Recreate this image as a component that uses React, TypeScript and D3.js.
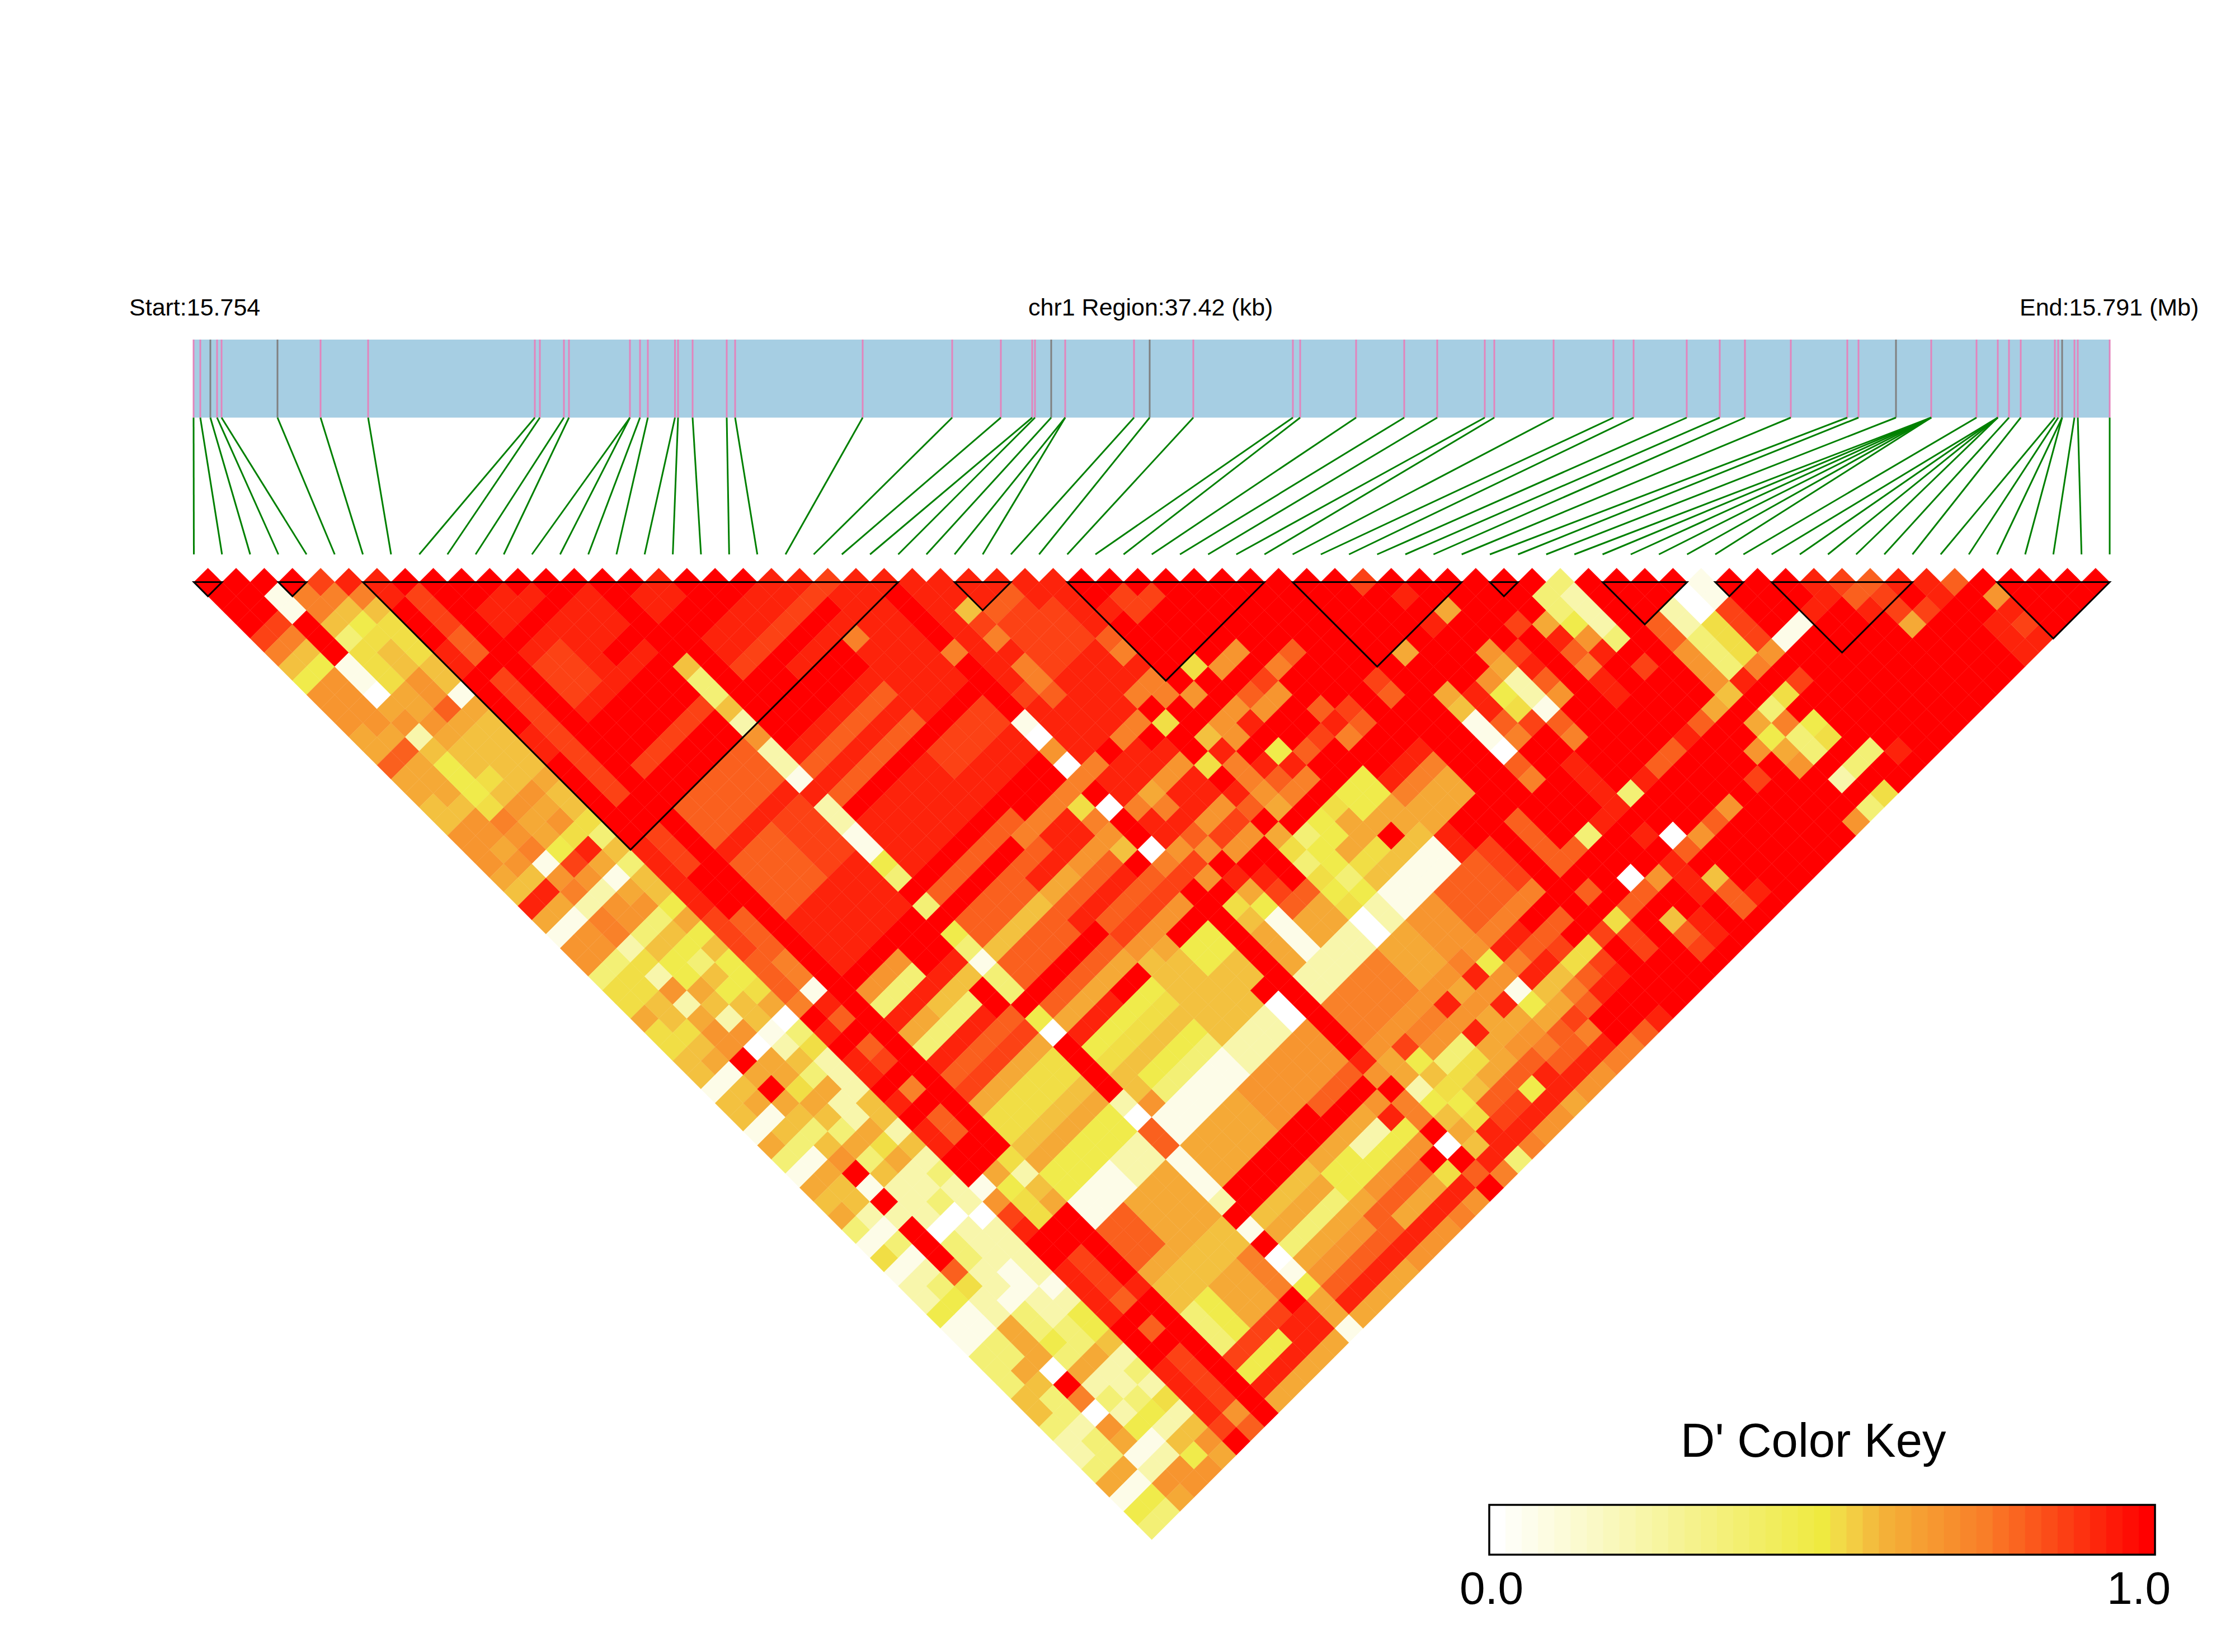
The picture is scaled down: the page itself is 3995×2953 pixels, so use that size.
import React from "react";
import * as d3 from "d3";

const W = 3995, H = 2953;
const snpCount = 69;
const levelValues: Record<string, number> = { a: 0, b: 0.06, c: 0.22, d: 0.36, e: 0.47, f: 0.52, g: 0.57, h: 0.62, i: 0.68, j: 0.74, k: 0.81, l: 0.87, m: 0.93, n: 1 };
const colorStops = [0, 0.5, 0.53, 0.6, 0.75, 1];
const colorValues = ["#FFFFFF", "#EFEA40", "#F2D848", "#F4B038", "#F97E28", "#FF0000"];

const bandTicks = [346,358,376,388,396,496,573,658,956,965,1008,1017,1126,1144,1158,1206.5,1212,1238,1299,1314,1542,1702,1789,1845,1850,1879,1904,2027,2055,2133,2311,2324,2424,2510,2569,2654,2671,2777,2884,2920,3015,3074,3119,3201,3302,3322,3389,3452,3533,3571,3591,3612,3673,3679,3686,3708,3714,3771];
const grayTicks = [376,496,1879,2055,3389,3686];
const snpToTick = [346,358,376,388,396,496,573,658,956,965,1008,1017,1126,1126,1144,1158,1206.5,1212,1238,1299,1314,1542,1702,1789,1845,1850,1879,1904,1904,2027,2055,2133,2311,2324,2424,2510,2569,2654,2671,2777,2884,2920,3015,3074,3119,3201,3302,3322,3389,3452,3452,3452,3452,3452,3452,3533,3571,3571,3571,3571,3591,3612,3673,3679,3686,3686,3708,3714,3771];
const blocks = [[0,1],[3,4],[6,25],[27,29],[31,38],[39,45],[46,47],[50,53],[54,55],[56,61],[64,68]];

// Strings of D' levels read strip by strip: row i, from j = i+1 to j = 68.
const headRows = [
  "nnnnljgeiiihhkhhggiiihgmhbiidffhffggbggbhdbhghdbfbccebbdddggdccdhbed",
  "nnnljgeiiiihkhhhgiihigmhbiidffggfghbghbgdbhggcbdbcdebbddhgddcddhbed",
  "nbbnnnbbahicgeeefjijbijcjjcfcichiinhnhgdginbncnnnkfcchhhanjaihbcih",
  "njjgdfffhhihggfgihheliciidgeehgciahhfhgdhdgcccaddccbddedhcdcebcii",
  "ljgefggiikhggggihifmhbhidgedgeggbcgdhcchfhccdacccbbccddhccdecgei",
  "mjgfffggbhgggghggfdgdggehegeefhadfcccggcgcdccaccccbceegcdcfcgih",
];
// Areas of the triangle: first SNP range, second SNP range, level.
const areasBase: [number, number, number, number, string][] = [
  [6,68,7,68,"n"],
  [6,6,7,8,"m"],[7,7,9,11,"l"],[7,7,12,13,"k"],[6,6,12,13,"m"],[7,7,15,23,"l"],[6,6,18,19,"m"],
  [9,10,12,13,"m"],[11,11,13,13,"m"],[9,11,15,19,"m"],[9,10,16,18,"l"],[12,13,15,17,"m"],[12,13,19,19,"m"],[9,13,23,23,"l"],
  [15,20,11,22,"n"],[15,16,17,18,"m"],[17,19,16,17,"m"],[16,22,23,23,"l"],[16,21,21,22,"m"],[22,24,24,25,"m"],[18,24,25,25,"m"],
  [14,14,21,21,"g"],[14,14,22,23,"d"],[14,14,24,24,"g"],[14,14,25,25,"c"],[14,14,26,26,"i"],[14,14,27,28,"c"],[14,14,29,29,"b"],[14,14,30,30,"m"],
  [14,14,31,32,"c"],[14,14,33,34,"b"],[14,14,35,35,"e"],[14,14,36,36,"d"],[14,14,38,38,"d"],[14,14,40,40,"e"],[14,14,41,41,"d"],[14,14,42,42,"b"],[14,14,43,44,"d"],
  [14,14,46,46,"e"],[14,14,47,47,"a"],[14,14,52,52,"c"],[14,14,53,53,"a"],[14,14,54,55,"k"],[14,14,56,58,"b"],[14,14,59,59,"c"],[14,14,61,61,"b"],[14,14,63,63,"a"],[14,14,64,64,"b"],[14,14,65,65,"e"],[14,14,66,67,"h"],[14,14,68,68,"b"],
  [6,6,26,30,"m"],[7,7,26,28,"l"],[6,6,31,33,"l"],[6,6,34,36,"k"],[7,7,32,34,"k"],[7,7,35,36,"j"],[6,6,37,37,"j"],[7,7,37,37,"b"],[7,7,38,38,"m"],[6,6,39,39,"m"],[7,7,39,39,"k"],
  [7,7,41,41,"k"],[7,7,42,42,"l"],[6,6,41,42,"m"],[7,7,44,44,"j"],[6,6,44,44,"m"],[7,7,46,47,"k"],[6,6,46,47,"m"],
  [6,6,50,50,"b"],[6,6,51,51,"i"],[6,6,52,52,"l"],[6,6,53,53,"m"],[7,7,50,50,"h"],[7,7,51,51,"e"],[7,7,52,53,"f"],[8,8,50,50,"f"],[8,8,51,51,"c"],[8,8,52,52,"g"],[8,8,53,53,"h"],
  [7,7,56,58,"l"],[6,6,56,58,"m"],[7,7,59,59,"k"],[6,6,59,59,"m"],[8,8,59,59,"m"],[7,7,61,61,"k"],[7,7,63,65,"l"],[6,6,63,65,"m"],[7,7,66,66,"l"],[6,6,66,66,"m"],[7,7,67,67,"i"],[6,6,67,67,"l"],[7,7,68,68,"k"],
  [15,20,26,27,"n"],[15,20,28,28,"m"],[15,21,29,29,"k"],[15,21,30,30,"m"],[15,21,31,31,"k"],[15,23,32,32,"n"],[20,23,33,35,"l"],[15,19,33,34,"m"],[15,23,35,36,"m"],
  [15,20,38,38,"k"],[15,19,40,41,"k"],[15,18,42,42,"g"],[15,18,43,43,"k"],[15,19,44,44,"k"],[21,23,26,31,"m"],
  [24,24,35,35,"b"],[24,24,36,36,"a"],[24,24,37,37,"i"],[24,24,38,38,"a"],[24,24,39,39,"j"],[24,24,41,41,"a"],[24,24,42,43,"n"],[24,24,44,44,"a"],[24,24,45,45,"j"],[24,24,46,46,"a"],[23,23,40,40,"f"],
  [9,13,26,37,"m"],[9,13,26,28,"k"],[9,11,30,33,"k"],[12,13,30,33,"l"],[9,13,38,38,"n"],
  [9,11,39,39,"i"],[9,11,40,40,"d"],[9,13,41,41,"m"],[9,10,42,42,"h"],[11,13,42,42,"g"],[9,12,43,43,"d"],[9,12,44,44,"m"],[9,13,45,45,"k"],[9,13,46,46,"l"],[9,13,47,47,"h"],[9,13,48,49,"f"],[9,13,50,50,"g"],[9,13,51,51,"h"],[9,13,52,53,"e"],
  [9,11,54,55,"b"],[12,13,54,55,"c"],[11,13,56,58,"h"],[9,10,56,58,"k"],[9,13,59,59,"h"],[9,13,60,61,"g"],[9,9,62,64,"d"],[10,10,62,64,"e"],[11,12,62,64,"h"],[13,13,62,64,"j"],[9,12,65,65,"l"],[9,11,66,66,"e"],[12,13,66,66,"m"],[9,13,67,67,"m"],[9,13,68,68,"h"],
  [15,19,45,45,"n"],[15,20,46,46,"k"],[15,20,47,47,"h"],[15,17,48,48,"m"],[15,19,49,49,"e"],[15,21,50,50,"f"],[15,20,51,51,"g"],[16,19,52,52,"e"],[15,15,52,52,"g"],[16,20,53,53,"d"],[15,15,53,53,"i"],
  [20,24,46,52,"g"],[21,23,47,48,"h"],[22,24,49,50,"e"],[20,22,53,53,"g"],[23,23,49,49,"e"],
  [15,19,54,55,"b"],[20,22,54,55,"c"],[23,23,54,55,"a"],[15,18,56,58,"h"],[19,23,56,58,"i"],[21,23,59,59,"k"],
  [15,19,60,60,"n"],[15,18,61,61,"g"],[15,18,62,62,"h"],[15,19,63,63,"d"],[15,19,64,64,"h"],[15,18,65,65,"i"],[15,19,66,66,"k"],[15,23,67,67,"m"],[15,18,68,68,"h"],
  [19,22,61,61,"h"],[19,23,62,63,"e"],[20,23,64,64,"i"],[19,22,65,65,"k"],[20,22,66,66,"h"],[23,23,66,66,"f"],[23,23,60,60,"n"],[23,23,61,61,"i"],[23,23,62,62,"m"],[19,21,68,68,"i"],[22,22,68,68,"j"],[23,23,68,68,"i"],
  [24,24,47,58,"n"],[24,24,59,59,"m"],[24,24,60,60,"i"],[24,24,61,61,"n"],[24,24,62,63,"j"],[24,24,64,64,"n"],[24,24,65,65,"a"],[24,24,66,66,"n"],[24,24,67,67,"k"],[24,24,68,68,"n"],
];
const areasRight: [number, number, number, number, string][] = [
  [25,30,26,37,"m"],[26,26,29,29,"g"],[21,21,26,26,"j"],[26,26,30,30,"l"],[26,26,31,31,"j"],[24,24,30,30,"j"],[27,29,32,34,"l"],[26,26,33,34,"j"],[26,26,35,35,"k"],[25,25,34,34,"l"],[25,25,35,35,"m"],
  [32,32,34,35,"l"],[33,33,35,35,"l"],[31,31,34,34,"m"],[30,30,35,35,"k"],[30,30,36,36,"j"],[27,28,30,30,"k"],[27,28,31,31,"l"],
  [25,29,38,38,"m"],[27,28,39,39,"j"],[25,25,39,39,"j"],[26,26,39,39,"n"],[26,27,40,40,"m"],[25,25,40,40,"m"],
  [30,30,38,39,"j"],[29,29,38,38,"j"],[31,31,40,40,"i"],[32,32,39,39,"f"],[29,29,40,40,"f"],[33,34,40,40,"i"],[30,30,42,42,"g"],[29,29,43,43,"f"],[32,32,45,45,"e"],
  [36,36,42,42,"k"],[35,35,42,42,"j"],[34,34,42,42,"l"],[33,33,42,42,"k"],[32,32,42,42,"i"],[31,31,42,42,"i"],[34,34,43,43,"i"],[33,33,43,43,"i"],[32,32,43,43,"m"],[31,31,43,43,"i"],
  [35,35,45,45,"k"],[36,36,46,46,"l"],[36,36,47,47,"k"],[35,35,47,47,"j"],[35,35,46,46,"m"],[34,34,46,46,"l"],[33,33,46,46,"k"],[32,32,46,46,"m"],[32,32,47,47,"j"],[31,31,46,46,"k"],[31,31,45,45,"m"],[31,31,47,47,"j"],[30,30,47,47,"h"],[30,30,46,46,"i"],[30,30,45,45,"j"],[30,30,44,44,"j"],[30,30,43,43,"m"],[29,29,46,46,"k"],[29,29,45,45,"m"],
  [26,28,42,42,"i"],[26,26,42,42,"h"],[25,25,42,42,"j"],[26,26,43,43,"j"],[25,25,43,43,"m"],[25,28,41,41,"m"],[27,28,43,43,"m"],[25,28,44,44,"m"],[27,28,45,45,"i"],[27,28,46,46,"l"],[27,28,47,47,"i"],
  [26,26,45,45,"k"],[26,26,46,46,"i"],[25,25,45,45,"i"],[25,25,46,46,"l"],[25,25,47,47,"i"],[26,26,47,47,"n"],[26,26,48,48,"m"],[29,29,48,48,"h"],
  [20,22,39,39,"j"],[23,23,39,39,"j"],[20,20,40,40,"k"],[21,22,40,40,"m"],[19,22,41,41,"m"],[23,23,41,41,"j"],[19,22,42,42,"h"],[21,23,42,42,"i"],[19,22,43,43,"k"],[23,23,43,43,"g"],[19,22,44,44,"m"],[20,23,45,45,"k"],[20,24,46,46,"l"],[20,23,47,47,"i"],[22,23,48,48,"n"],
  [33,34,49,50,"e"],[31,31,49,49,"e"],[32,32,49,49,"f"],[30,30,49,49,"d"],[30,30,50,50,"e"],[29,29,50,50,"d"],[29,29,49,49,"f"],[29,29,51,51,"f"],[30,30,51,51,"e"],[32,32,51,51,"h"],[32,32,50,50,"h"],[33,33,51,51,"h"],[31,31,51,51,"h"],[31,31,50,50,"e"],[31,31,52,52,"f"],[32,32,52,52,"f"],[30,30,52,52,"d"],[29,29,52,52,"e"],[30,30,53,53,"e"],[29,29,53,53,"f"],[31,33,53,53,"g"],
  [27,28,48,48,"n"],[26,26,49,49,"h"],[25,25,49,49,"f"],[26,26,50,50,"e"],[25,25,50,50,"g"],[25,25,51,53,"h"],[26,26,51,53,"b"],[27,27,49,49,"m"],[28,28,49,50,"n"],[27,27,50,50,"l"],[28,28,51,51,"k"],[27,27,51,51,"k"],[27,28,52,53,"h"],
  [25,26,54,55,"c"],[27,28,54,55,"c"],[29,29,54,55,"a"],[30,30,54,55,"c"],[31,32,54,55,"b"],[33,34,54,55,"b"],[35,35,54,55,"m"],[36,37,54,55,"n"],
  [25,26,56,58,"j"],[27,28,56,59,"j"],[29,30,56,58,"h"],[31,32,56,58,"i"],[33,35,56,58,"k"],[36,36,56,58,"l"],[37,37,56,58,"n"],[38,38,56,59,"k"],[42,42,56,58,"m"],
  [25,30,59,59,"i"],[31,31,59,59,"j"],[32,32,59,59,"i"],[33,35,59,59,"j"],[36,36,59,59,"j"],[37,37,59,59,"n"],[39,39,59,59,"k"],
  [25,25,60,61,"h"],[26,26,60,60,"l"],[26,26,61,61,"e"],[27,28,60,60,"j"],[27,28,61,61,"i"],[29,29,60,60,"m"],[30,30,60,60,"h"],[31,31,60,60,"m"],[32,32,60,60,"e"],[33,34,60,60,"m"],[35,36,60,60,"n"],[29,32,61,61,"i"],[33,33,61,61,"j"],[34,36,61,61,"k"],[38,38,61,61,"k"],
  [25,25,62,62,"c"],[26,26,62,62,"g"],[27,28,62,62,"d"],[29,29,62,62,"m"],[30,30,62,62,"h"],[31,31,62,62,"m"],[32,32,62,62,"b"],[33,34,62,62,"m"],[35,35,62,62,"l"],[21,22,62,62,"c"],
  [25,25,63,63,"e"],[26,26,63,63,"f"],[27,27,63,63,"f"],[28,28,63,63,"f"],[29,31,63,63,"h"],[32,32,63,63,"e"],[33,34,63,63,"g"],[35,36,63,63,"f"],[37,37,63,63,"l"],[38,38,63,63,"f"],[39,40,63,63,"k"],
  [25,25,64,64,"g"],[26,26,64,64,"e"],[27,27,64,64,"g"],[28,29,64,64,"h"],[30,31,64,64,"i"],[32,33,64,64,"h"],[34,34,64,64,"j"],[35,35,64,64,"k"],[36,36,64,64,"l"],
  [25,25,65,65,"h"],[26,26,65,65,"f"],[27,30,65,65,"k"],[31,31,65,65,"j"],[32,32,65,65,"k"],[33,33,65,65,"l"],[34,34,65,65,"k"],[35,36,65,65,"m"],[38,38,64,65,"l"],
  [25,25,66,66,"g"],[26,27,66,66,"m"],[27,27,66,66,"l"],[28,28,66,66,"l"],[29,29,66,66,"e"],[30,30,66,66,"m"],[31,32,66,66,"k"],[33,33,66,66,"j"],
  [25,29,67,67,"m"],[30,33,67,67,"m"],[25,25,68,68,"j"],[26,26,68,68,"d"],[27,27,68,68,"j"],[28,29,68,68,"i"],[30,30,68,68,"h"],[31,32,68,68,"i"],[33,34,68,68,"j"],[35,35,68,68,"k"],[36,36,68,68,"m"],
  [41,41,42,42,"l"],[42,42,44,44,"m"],[43,43,46,46,"h"],[42,42,46,46,"m"],[40,40,46,46,"h"],[38,38,46,46,"l"],[38,38,47,47,"k"],
  [40,40,49,49,"h"],[40,40,50,50,"g"],[40,40,51,52,"b"],[40,40,53,53,"a"],[40,40,54,54,"k"],[40,40,55,55,"j"],[41,41,50,50,"m"],[41,41,51,51,"m"],[41,41,52,52,"k"],[41,41,53,53,"j"],
  [43,43,49,49,"i"],[43,43,50,50,"h"],[43,43,51,52,"c"],[43,43,53,53,"b"],[43,43,54,54,"k"],[43,43,55,55,"j"],[42,42,50,50,"i"],[42,42,51,51,"e"],[42,42,52,52,"f"],[42,42,53,53,"l"],
  [44,44,50,50,"l"],[44,44,51,51,"m"],[44,44,52,52,"k"],[44,44,53,53,"i"],[37,37,50,50,"m"],[37,37,51,51,"j"],[37,37,52,53,"h"],[36,36,50,50,"m"],[36,36,51,51,"j"],[36,36,52,53,"h"],[35,35,51,51,"j"],[35,35,52,53,"h"],[35,35,50,50,"m"],[34,34,51,52,"h"],[34,34,53,53,"g"],
  [48,48,49,49,"d"],[48,48,50,52,"c"],[48,48,53,53,"d"],[47,47,49,50,"d"],[47,47,51,51,"e"],[47,47,52,52,"i"],[47,47,53,53,"m"],[45,45,49,49,"l"],[46,46,49,49,"n"],[46,46,50,50,"h"],[46,46,51,51,"m"],[46,46,52,52,"k"],[46,46,53,53,"j"],[46,46,54,55,"m"],[48,48,55,55,"l"],
  [51,53,54,55,"b"],[52,52,54,55,"a"],[51,51,54,55,"c"],[50,50,54,55,"k"],[51,51,56,58,"d"],[52,52,56,58,"f"],[50,50,56,58,"i"],[53,53,56,58,"l"],
  [55,55,59,59,"b"],[54,54,59,59,"b"],[53,53,59,59,"i"],[52,52,59,59,"j"],[51,51,59,59,"m"],[50,50,59,59,"g"],[49,49,59,59,"h"],[48,48,59,59,"k"],[47,47,59,59,"m"],[46,46,59,59,"k"],[45,45,59,59,"k"],[44,44,59,59,"m"],[43,43,59,59,"d"],[41,42,59,59,"m"],[40,40,59,59,"d"],
  [57,57,58,58,"m"],[56,56,59,59,"m"],[57,57,59,59,"m"],[58,58,59,59,"l"],[59,59,60,60,"k"],[60,60,61,61,"m"],[59,59,61,61,"l"],[58,58,60,60,"k"],[58,58,61,61,"m"],[61,61,62,62,"m"],
  [59,59,62,62,"l"],[60,60,63,63,"l"],[61,61,63,63,"m"],[62,62,63,63,"k"],[59,59,63,63,"h"],[63,63,65,65,"i"],[63,63,66,66,"m"],[63,63,67,67,"l"],[63,63,68,68,"m"],[62,62,66,68,"m"],
  [51,51,61,61,"d"],[52,52,61,61,"f"],[53,53,61,61,"l"],[50,50,61,61,"h"],[50,50,62,62,"e"],[51,51,62,62,"j"],[52,52,63,63,"e"],[51,51,63,63,"d"],[52,52,64,64,"f"],[51,51,64,64,"d"],[49,49,62,62,"i"],[50,50,63,63,"h"],[50,50,64,64,"i"],[48,48,63,63,"l"],
  [53,53,66,66,"d"],[52,52,66,66,"d"],[51,51,66,66,"c"],[52,52,68,68,"f"],[51,51,68,68,"d"],[50,50,68,68,"i"],[54,54,67,67,"m"],
  [43,43,62,62,"a"],[42,42,61,61,"m"],[44,44,63,63,"i"],[45,45,63,63,"k"],[46,46,63,63,"i"],[43,43,63,63,"k"],[40,40,62,62,"a"],[41,41,63,63,"i"],[42,42,63,65,"m"],[43,43,65,65,"g"],[43,43,66,67,"k"],[44,44,67,67,"m"],[40,40,65,65,"g"],[40,40,66,66,"k"],[40,40,67,67,"l"],[41,41,66,67,"m"],
];
const areas = [...areasBase, ...areasRight];

const x = d3.scaleLinear().domain([0, snpCount - 1]).range([346.5, 3771]);
const depth = d3.scaleLinear().domain([1, snpCount - 1]).range([1040.6, 2727]);
const color = d3.scaleLinear<string>().domain(colorStops).range(colorValues).interpolate(d3.interpolateRgb);

function buildMatrix() {
  const m: string[][] = d3.range(snpCount).map(() => new Array(snpCount).fill("n"));
  areas.forEach(([i0, i1, j0, j1, c]) => {
    for (let i = i0; i <= i1; i++) for (let j = Math.max(j0, i + 1); j <= j1; j++) m[i][j] = c;
  });
  headRows.forEach((s, i) => { for (let k = 0; k < s.length && i + 1 + k < snpCount; k++) m[i][i + 1 + k] = s[k]; });
  return m;
}

export default function App() {
  const m = buildMatrix();
  const hw = (x(1) - x(0)) / 2;
  const hh = (depth(2) - depth(1));
  const cells: { key: string; pts: string; fill: string }[] = [];
  for (let i = 0; i < snpCount; i++) for (let j = i + 1; j < snpCount; j++) {
    const cx = x((i + j) / 2), cy = depth(j - i);
    cells.push({ key: `${i}-${j}`, pts: `${cx},${cy - hh} ${cx + hw},${cy} ${cx},${cy + hh} ${cx - hw},${cy}`, fill: color(levelValues[m[i][j]]) });
  }
  const legendN = 41;
  const legendX = d3.scaleLinear().domain([0, legendN]).range([2662, 3852]);
  const font = "'Liberation Sans', Arial, sans-serif";
  return (
    <svg width={W} height={H} style={{ position: "absolute", left: 0, top: 0, background: "#fff" }} fontFamily={font}>
      <text x={231} y={564} fontSize={43}>Start:15.754</text>
      <text x={1838} y={564} fontSize={43}>chr1 Region:37.42 (kb)</text>
      <text x={3610} y={564} fontSize={43}>End:15.791 (Mb)</text>
      <rect x={346} y={607} width={3425} height={139.5} fill="#A6CEE3" />
      {bandTicks.map((t, k) => (
        <line key={k} x1={t} x2={t} y1={607} y2={746.5} stroke={grayTicks.includes(t) ? "#808080" : "#E384BC"} strokeWidth={3} />
      ))}
      {snpToTick.map((t, k) => (
        <line key={k} x1={t} x2={x(k)} y1={746.5} y2={991} stroke="#008000" strokeWidth={3} />
      ))}
      {cells.map(c => <polygon key={c.key} points={c.pts} fill={c.fill} stroke={c.fill} strokeWidth={0.4} />)}
      {blocks.map(([a, b], k) => (
        <path key={k} d={`M${x(a)},${depth(1)}L${x(b)},${depth(1)}L${x((a + b) / 2)},${depth(1) + (b - a) * hh}Z`} fill="none" stroke="#000" strokeWidth={3} />
      ))}
      <text x={3004} y={2604} fontSize={85}>D' Color Key</text>
      {d3.range(legendN).map(k => (
        <rect key={k} x={legendX(k)} y={2690} width={legendX(1) - legendX(0) + 0.5} height={89} fill={color(k === 0 ? 0 : k / (legendN - 1))} />
      ))}
      <rect x={2662} y={2690} width={1190} height={89} fill="none" stroke="#000" strokeWidth={3.5} />
      <text x={2609} y={2867} fontSize={82}>0.0</text>
      <text x={3766} y={2867} fontSize={82}>1.0</text>
    </svg>
  );
}
